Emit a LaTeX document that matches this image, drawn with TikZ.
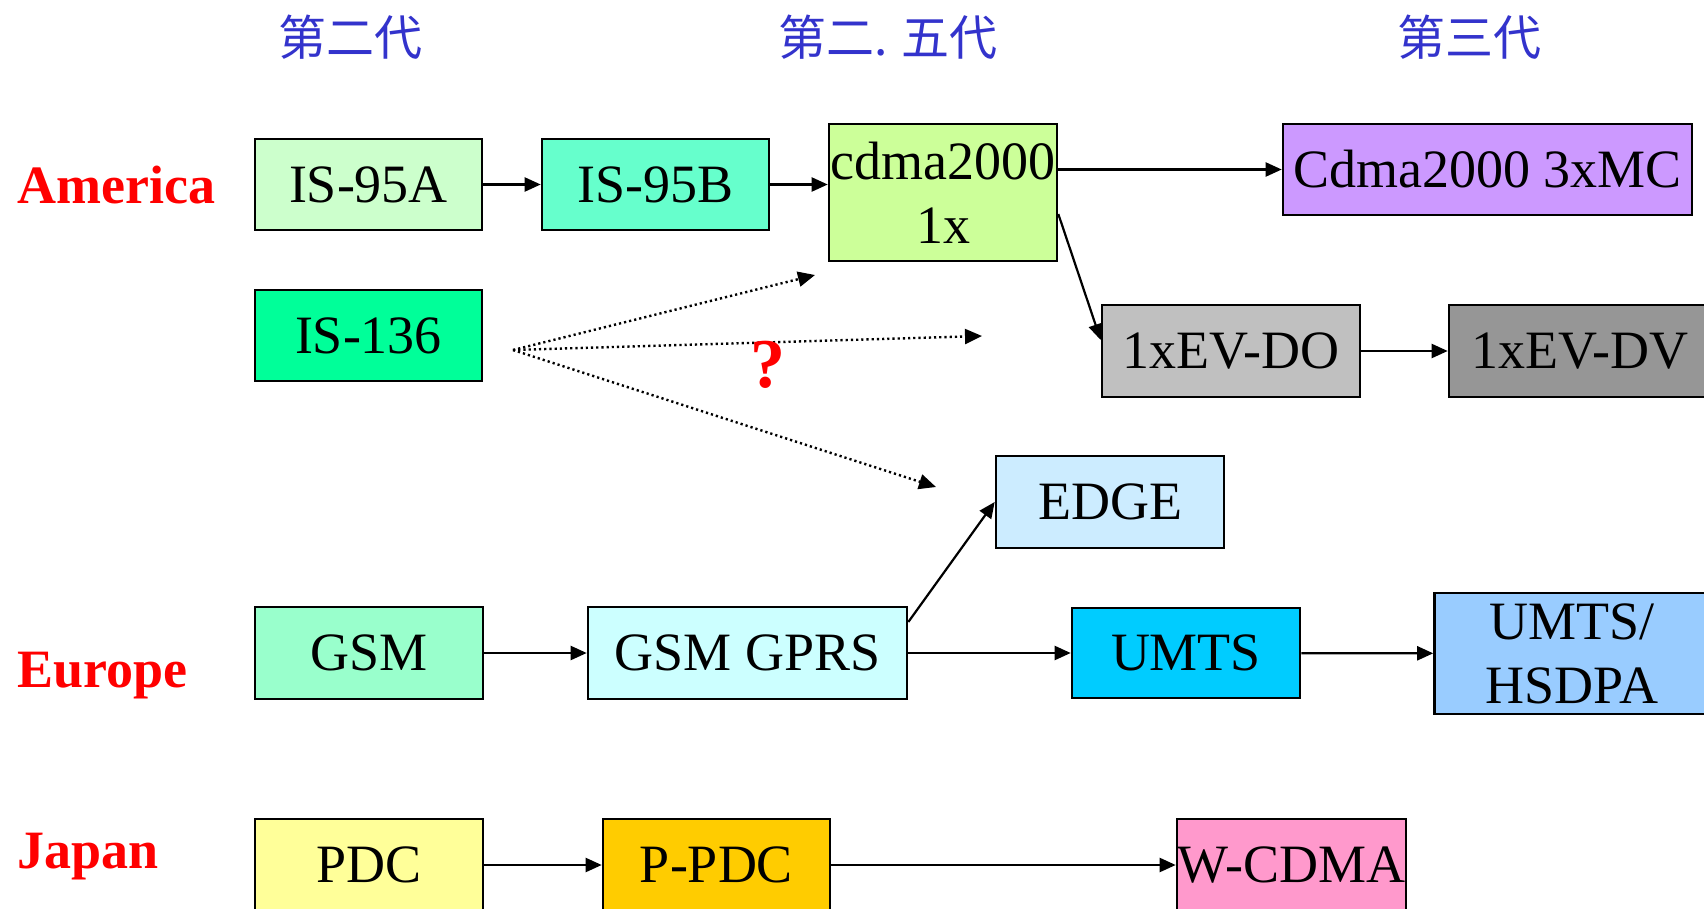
\documentclass[tikz,border=0pt]{standalone}
\usepackage{fontspec}
\setmainfont{Liberation Serif}
\newfontfamily\cjkfont{Noto Sans CJK SC}
\usetikzlibrary{arrows.meta,calc}

\definecolor{cIsA}{HTML}{CCFFCC}
\definecolor{cIsB}{HTML}{66FFCC}
\definecolor{cOneX}{HTML}{CCFF99}
\definecolor{cThreeX}{HTML}{CC99FF}
\definecolor{cIs136}{HTML}{00FF99}
\definecolor{cEvdo}{HTML}{C0C0C0}
\definecolor{cEvdv}{HTML}{969696}
\definecolor{cEdge}{HTML}{CCECFF}
\definecolor{cGsm}{HTML}{99FFCC}
\definecolor{cGprs}{HTML}{CCFFFF}
\definecolor{cUmts}{HTML}{00CCFF}
\definecolor{cHsdpa}{HTML}{99CCFF}
\definecolor{cPdc}{HTML}{FFFF99}
\definecolor{cPpdc}{HTML}{FFCC00}
\definecolor{cWcdma}{HTML}{FF99CC}
\definecolor{eraBlue}{HTML}{3333CC}
\definecolor{regionRed}{HTML}{FF0000}

\begin{document}
\begin{tikzpicture}[x=1pt,y=-1pt,
  box/.style={draw=black, line width=2.6pt, inner sep=0pt, minimum height=91pt,
    font=\fontsize{54}{64}\selectfont, align=center},
  link/.style={line width=2.2pt, -{Triangle[length=16pt,width=14pt]}},
  guess/.style={line width=2.4pt, dash pattern=on 2.2pt off 3pt,
    -{Triangle[length=17pt,width=15pt]}},
  era/.style={font=\cjkfont\fontsize{48}{48}\selectfont, text=eraBlue, inner sep=0pt},
  region/.style={font=\bfseries\fontsize{54}{54}\selectfont, text=regionRed,
    anchor=base west, inner sep=0pt},
]
\fill[white] (0,0) rectangle (1704,909);
\useasboundingbox (0,0) rectangle (1704,909);

% generation headings
\node[era] (gen2)  at (350,37)  {第二代};
\node[era] (gen25) at (888,37)  {第二. 五代};
\node[era] (gen3)  at (1469,37) {第三代};

% regions
\node[region] (america) at (17,204) {America};
\node[region] (europe)  at (17,687) {Europe};
\node[region] (japan)   at (17,868) {Japan};

% America
\node[box, fill=cIsA,    minimum width=227pt] (isa)   at (368.5,184.5) {IS-95A};
\node[box, fill=cIsB,    minimum width=227pt] (isb)   at (655.5,184.5) {IS-95B};
\node[box, fill=cOneX,   minimum width=228pt, minimum height=137pt] (onex) at (943,192.5) {cdma2000\\1x};
\node[box, fill=cThreeX, minimum width=409pt] (threex) at (1487.5,169.5) {Cdma2000 3xMC};
\node[box, fill=cIs136,  minimum width=227pt] (is136) at (368.5,335.5) {IS-136};
\node[box, fill=cEvdo,   minimum width=258pt, minimum height=92pt] (evdo) at (1231,351) {1xEV-DO};
\node[box, fill=cEvdv,   minimum width=262pt, minimum height=92pt] (evdv) at (1580,351) {1xEV-DV};

% Europe
\node[box, fill=cEdge,  minimum width=228pt, minimum height=92pt] (edge) at (1110,502) {EDGE};
\node[box, fill=cGsm,   minimum width=228pt, minimum height=92pt] (gsm)  at (369,653) {GSM};
\node[box, fill=cGprs,  minimum width=319pt, minimum height=92pt] (gprs) at (747.5,653) {GSM GPRS};
\node[box, fill=cUmts,  minimum width=228pt, minimum height=90pt] (umts) at (1186,653) {UMTS};
\node[box, fill=cHsdpa, minimum width=275pt, minimum height=121pt] (hsdpa) at (1572,653.5) {UMTS/\\HSDPA};

% Japan
\node[box, fill=cPdc,   minimum width=228pt, minimum height=92pt] (pdc)   at (369,865) {PDC};
\node[box, fill=cPpdc,  minimum width=227pt, minimum height=92pt] (ppdc)  at (716.5,865) {P-PDC};
\node[box, fill=cWcdma, minimum width=229pt, minimum height=92pt] (wcdma) at (1291.5,865) {W-CDMA};

% evolution links
\draw[link] (isa) -- (isb);
\draw[link] (isb.east) -- (isb.east -| onex.west);
\draw[link] (onex.east |- threex.west) -- (threex.west);
\draw[link] ($(onex.east)+(0,21.5)$) -- ($(evdo.west)+(0,-11)$);
\draw[link] (evdo) -- (evdv);
\draw[link] (gsm) -- (gprs);
\draw[link] ($(gprs.east)+(0,-31)$) -- (edge.west);
\draw[link] (gprs) -- (umts);
\draw[link] (umts) -- (hsdpa);
\draw[link] (pdc) -- (ppdc);
\draw[link] (ppdc) -- (wcdma);

% uncertain paths out of IS-136
\coordinate (fork) at (513,350);
\coordinate (toOneX) at (815,275);
\coordinate (toMid) at (982,336);
\coordinate (toEdge) at (936,487);
\draw[guess] (fork) -- (toOneX);
\draw[guess] (fork) -- (toMid);
\draw[guess] (fork) -- (toEdge);
\node[font=\bfseries\fontsize{70}{70}\selectfont, text=regionRed, inner sep=0pt] (qmark) at (768,365) {?};
\end{tikzpicture}
\end{document}
